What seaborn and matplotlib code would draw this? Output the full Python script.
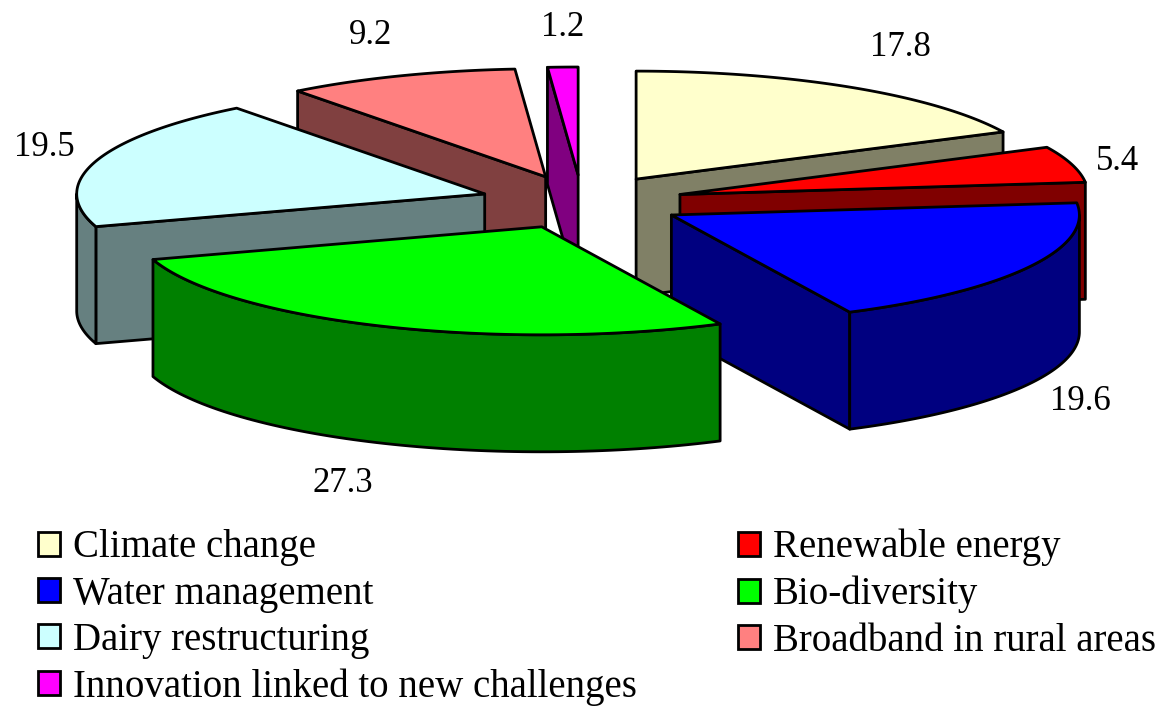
import numpy as np
import seaborn as sns
import matplotlib.pyplot as plt
from matplotlib.patches import Patch

categories = ['Climate change', 'Renewable energy', 'Water management', 'Bio-diversity',
              'Dairy restructuring', 'Broadband in rural areas', 'Innovation linked to new challenges']
shares = [17.8, 5.4, 19.6, 27.3, 19.5, 9.2, 1.2]
colors = ['#FFFFCC', '#FF0000', '#0000FF', '#00FF00', '#CCFFFF', '#FF8080', '#FF00FF']

# layout in pixels, the axes span the whole figure
center = (582, 202)
rx, ry = 408, 108
depth = 117
explode = 0.25
label_xy = [(900, 48), (1118, 161), (1080, 401), (343, 483), (44, 148), (370, 36), (563, 27)]
edge = 2.0


def rim(cx, cy, a1, a2, n=80):
    t = np.radians(np.linspace(a1, a2, n))
    return cx + rx * np.sin(t), cy - ry * np.cos(t)


def poly(ax, x, y, color, z):
    ax.fill(x, y, facecolor=color, edgecolor='black', linewidth=edge, joinstyle='round', zorder=z)


def draw_slice(ax, a1, a2, color, z):
    mid = np.radians((a1 + a2) / 2)
    cx = center[0] + explode * rx * np.sin(mid)
    cy = center[1] - explode * ry * np.cos(mid)
    side = tuple(c * 0.5 for c in color)
    # cut faces that look towards the viewer
    for a, visible in ((a1, np.sin(np.radians(a1)) < -1e-6), (a2, np.sin(np.radians(a2)) > 1e-6)):
        if visible:
            ex, ey = rim(cx, cy, a, a, 1)
            poly(ax, [cx, ex[0], ex[0], cx], [cy, ey[0], ey[0] + depth, cy + depth], side, z)
    # outer wall, front half of the ellipse only
    w1, w2 = max(a1, 90), min(a2, 270)
    if w1 < w2:
        wx, wy = rim(cx, cy, w1, w2)
        poly(ax, np.r_[wx, wx[::-1]], np.r_[wy, wy[::-1] + depth], side, z)
    tx, ty = rim(cx, cy, a1, a2)
    poly(ax, np.r_[cx, tx], np.r_[cy, ty], color, z)


if __name__ == '__main__':
    sns.set_theme(style="white")
    plt.rcParams['font.family'] = ['Liberation Serif', 'DejaVu Serif']
    palette = sns.color_palette(colors)

    fig = plt.figure(figsize=(11.59, 7.06), dpi=100)
    ax = fig.add_axes([0, 0, 1, 1])
    ax.set_xlim(0, 1159)
    ax.set_ylim(706, 0)
    ax.axis('off')

    edges = np.r_[0, np.cumsum(shares)] / np.sum(shares) * 360
    mids = (edges[:-1] + edges[1:]) / 2
    # paint from the back of the pie to the front
    for z, i in enumerate(np.argsort(-np.cos(np.radians(mids)))):
        draw_slice(ax, edges[i], edges[i + 1], palette[i], z + 2)

    for v, (x, y) in zip(shares, label_xy):
        ax.text(x, y, f'{v:.1f}', fontsize=25, ha='center', va='center', color='black', zorder=20)

    handles = [Patch(facecolor=c, edgecolor='black', linewidth=edge, label=n) for c, n in zip(palette, categories)]
    order = [0, 2, 4, 6, 1, 3, 5]
    ax.legend([handles[i] for i in order], [categories[i] for i in order], ncols=2,
              loc='lower left', bbox_to_anchor=(38 / 1159, 0 / 706), bbox_transform=fig.transFigure,
              frameon=False, fontsize=28, labelcolor='black', handlelength=0.57, handleheight=0.57,
              handletextpad=0.33, labelspacing=0.24, columnspacing=2.6, borderpad=0, borderaxespad=0)

    fig.savefig('out.png', dpi=100)
